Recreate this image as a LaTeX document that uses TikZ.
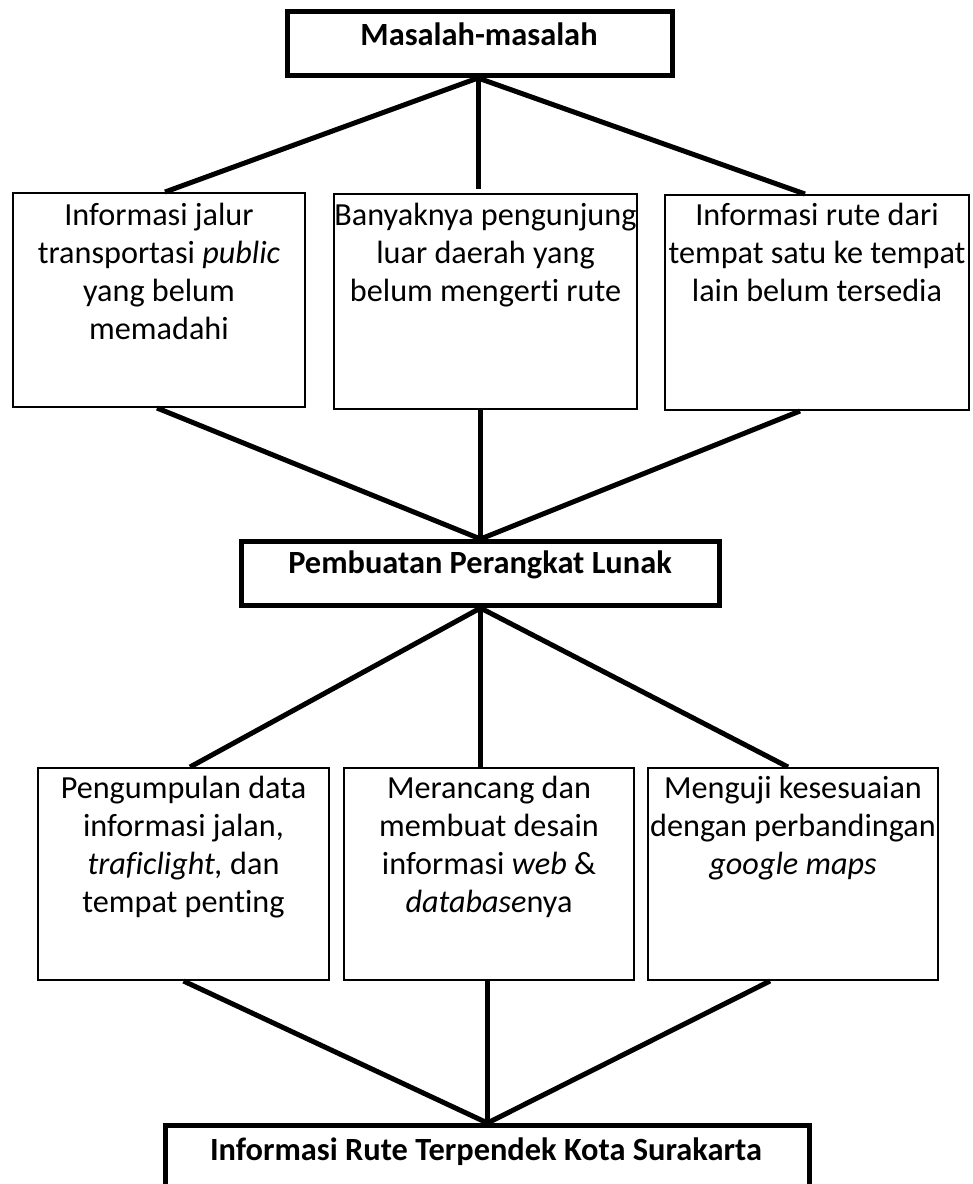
\documentclass[tikz,border=0pt]{standalone}
\usepackage{fontspec}
\setmainfont[Ligatures=NoCommon]{Carlito}
\begin{document}
\begin{tikzpicture}[x=1pt,y=-1pt,
  thickbox/.style={draw=black, line width=5pt, inner sep=0pt},
  thinbox/.style={draw=black, line width=2pt, inner sep=0pt},
  link/.style={draw=black, line width=5pt},
  boxtxt/.style={inner sep=0pt, align=center, font=\fontsize{32.2}{38}\selectfont},
  boldtxt/.style={inner sep=0pt, font=\bfseries\fontsize{32.4}{38}\selectfont}]
\useasboundingbox (0,0) rectangle (973,1184);
\clip (0,0) rectangle (973,1184);
\fill[white] (0,0) rectangle (973,1184);

% boxes
\node[thickbox, minimum width=385pt, minimum height=64pt] (top) at (480,43.5) {};
\node[thinbox, minimum width=292pt, minimum height=214pt] (b1) at (159,300) {};
\node[thinbox, minimum width=303pt, minimum height=215pt] (b2) at (485.5,301.5) {};
\node[thinbox, minimum width=304pt, minimum height=215pt] (b3) at (817,302.5) {};
\node[thickbox, minimum width=478pt, minimum height=64pt] (mid) at (480.5,573.5) {};
\node[thinbox, minimum width=291pt, minimum height=212pt] (b4) at (183.5,874) {};
\node[thinbox, minimum width=290pt, minimum height=212pt] (b5) at (489,874) {};
\node[thinbox, minimum width=290pt, minimum height=212pt] (b6) at (793,874) {};
\node[thickbox, minimum width=644pt, minimum height=150pt] (fin) at (487.5,1200.5) {};

% texts
\node[boldtxt, anchor=base] (ttop) at (479,45) {Masalah-masalah};
\node[boxtxt, anchor=north] (t1) at (159,198.4) {\strut Informasi jalur\\transportasi \textit{public}\\yang belum\\memadahi};
\node[boxtxt, anchor=north] (t2) at (485.5,198.4) {\strut Banyaknya pengunjung\\luar daerah yang\\belum mengerti rute};
\node[boxtxt, anchor=north] (t3) at (817,198.4) {\strut Informasi rute dari\\tempat satu ke tempat\\lain belum tersedia};
\node[boldtxt, anchor=base] (tmid) at (480,573) {Pembuatan Perangkat Lunak};
\node[boxtxt, anchor=north] (t4) at (183.5,771.4) {\strut Pengumpulan data\\informasi jalan,\\\textit{traficlight,} dan\\tempat penting};
\node[boxtxt, anchor=north] (t5) at (489,771.4) {\strut Merancang dan\\membuat desain\\informasi \textit{web} \&\\\textit{database}nya};
\node[boxtxt, anchor=north] (t6) at (793,771.4) {\strut Menguji kesesuaian\\dengan perbandingan\\\textit{google maps}};
\node[boldtxt, anchor=base] (tfin) at (486,1160) {Informasi Rute Terpendek Kota Surakarta};

% connectors
\draw[link] ([xshift=-2pt]top.south) -- ([xshift=6pt]b1.north);
\draw[link, shorten >=4pt] ([xshift=-2pt]top.south) -- ([xshift=-2pt]top.south |- b2.north);
\draw[link] ([xshift=-2pt]top.south) -- ([xshift=-12pt]b3.north);

\draw[link] ([xshift=-2pt]b1.south) -- (mid.north);
\draw[link] (mid.north |- b2.south) -- (mid.north);
\draw[link] ([xshift=-17pt]b3.south) -- (mid.north);

\draw[link] (mid.south) -- ([xshift=6.5pt]b4.north);
\draw[link] (mid.south) -- (mid.south |- b5.north);
\draw[link] (mid.south) -- ([xshift=-5pt]b6.north);

\draw[link] (b4.south) -- (fin.north);
\draw[link] (fin.north |- b5.south) -- (fin.north);
\draw[link] ([xshift=-23pt]b6.south) -- (fin.north);
\end{tikzpicture}
\end{document}
